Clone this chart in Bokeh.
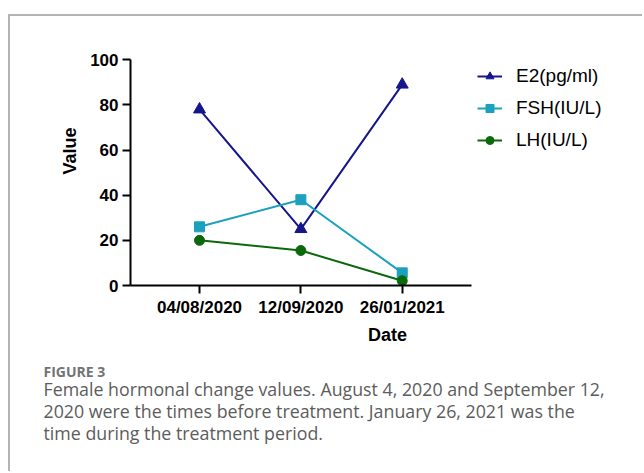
from bokeh.plotting import figure
from bokeh.models import Range1d, FixedTicker, Title
from bokeh.embed import file_html
from bokeh.resources import INLINE

# ---- data ----
dates = ["04/08/2020", "12/09/2020", "26/01/2021"]
e2 = [78, 25, 89]
fsh = [26, 38, 5.6]
lh = [20, 15.5, 2.1]
y_ticks = [0, 20, 40, 60, 80, 100]
series_names = ["E2(pg/ml)", "FSH(IU/L)", "LH(IU/L)"]
caption_title = "FIGURE 3"
caption_lines = [
    "Female hormonal change values. August 4, 2020 and September 12,",
    "2020 were the times before treatment. January 26, 2021 was the",
    "time during the treatment period.",
]

# ---- layout constants (canvas pixels) ----
W, H = 634, 457
FRAME_L = 120
FRAME_B = 269
PX_X = 101.35
X_START = -0.681
X_END = X_START + (W - FRAME_L) / PX_X
PX_Y = 2.257
Y_END = FRAME_B / PX_Y

x_idx = list(range(len(dates)))

p = figure(width=W, height=H, output_backend="svg", toolbar_location=None,
           x_range=Range1d(X_START, X_END), y_range=Range1d(0, Y_END),
           min_border_left=FRAME_L, min_border_right=0, min_border_top=0,
           min_border_bottom=H - FRAME_B,
           styles={"margin-left": "8px", "margin-top": "14px",
                   "border-left": "2px solid #b4b4b4",
                   "border-top": "2px solid #b4b4b4"})
p.outline_line_color = None
p.xgrid.visible = False
p.ygrid.visible = False
p.background_fill_color = "white"
p.border_fill_color = "white"

AX_FONT = "Liberation Sans"
for ax in (p.xaxis[0], p.yaxis[0]):
    ax.axis_line_width = 2
    ax.axis_line_color = "black"
    ax.major_tick_line_width = 2
    ax.major_tick_line_color = "black"
    ax.major_tick_out = 8
    ax.major_tick_in = 0
    ax.minor_tick_line_color = None
    ax.major_label_text_font = AX_FONT
    ax.major_label_text_font_style = "bold"
    ax.major_label_text_font_size = "17px"
    ax.major_label_text_color = "black"
    ax.axis_label_text_font = AX_FONT
    ax.axis_label_text_font_style = "bold"
    ax.axis_label_text_font_size = "18px"
    ax.axis_label_text_color = "black"

p.xaxis.ticker = FixedTicker(ticks=x_idx)
p.xaxis.major_label_overrides = {i: d for i, d in zip(x_idx, dates)}
p.xaxis.bounds = (-0.68, 2.68)
p.xaxis.axis_label = "Date"
p.xaxis.major_label_standoff = 4
p.xaxis.axis_label_standoff = 5

p.yaxis.ticker = FixedTicker(ticks=y_ticks)
p.yaxis.bounds = (0, 100)
p.yaxis.axis_label = "Value"
p.yaxis.major_label_standoff = 4
p.yaxis.axis_label_standoff = 7

colors = ["#15158c", "#1ba0bd", "#0b690b"]
markers = ["triangle", "square", "circle"]
sizes = [12, 10, 10]
for vals, name, col, mk, sz in zip([e2, fsh, lh], series_names, colors, markers, sizes):
    p.line(x_idx, vals, line_color=col, line_width=2, legend_label=name)
    p.scatter(x_idx, vals, marker=mk, size=sz, fill_color=col, line_color=col,
              legend_label=name)

lg = p.legend[0]
lg.location = (347, 134)
lg.padding = 0
lg.margin = 0
lg.spacing = 10
lg.glyph_width = 25
lg.glyph_height = 20
lg.label_height = 20
lg.label_standoff = 14
lg.label_text_font = AX_FONT
lg.label_text_font_size = "19px"
lg.label_text_color = "black"
lg.border_line_color = None
lg.background_fill_alpha = 0

# caption (titles stacked below the x axis)
CAP_OFFSET = 33 - FRAME_L
# spacer between the axis and the caption block
p.add_layout(Title(text=" ", text_font_size="1px", standoff=14), "below")
p.add_layout(Title(text=caption_title, align="left", offset=CAP_OFFSET, standoff=-8.9,
                   text_font="Open Sans", text_font_style="bold",
                   text_font_size="14px", text_color="#737373"), "below")
for line in caption_lines:
    p.add_layout(Title(text=line, align="left", offset=CAP_OFFSET, standoff=-4.2,
                       text_font="Open Sans", text_font_style="normal",
                       text_font_size="17.8px", text_color="#5c5c5c"), "below")

open("out.html", "w").write(file_html(p, INLINE))
